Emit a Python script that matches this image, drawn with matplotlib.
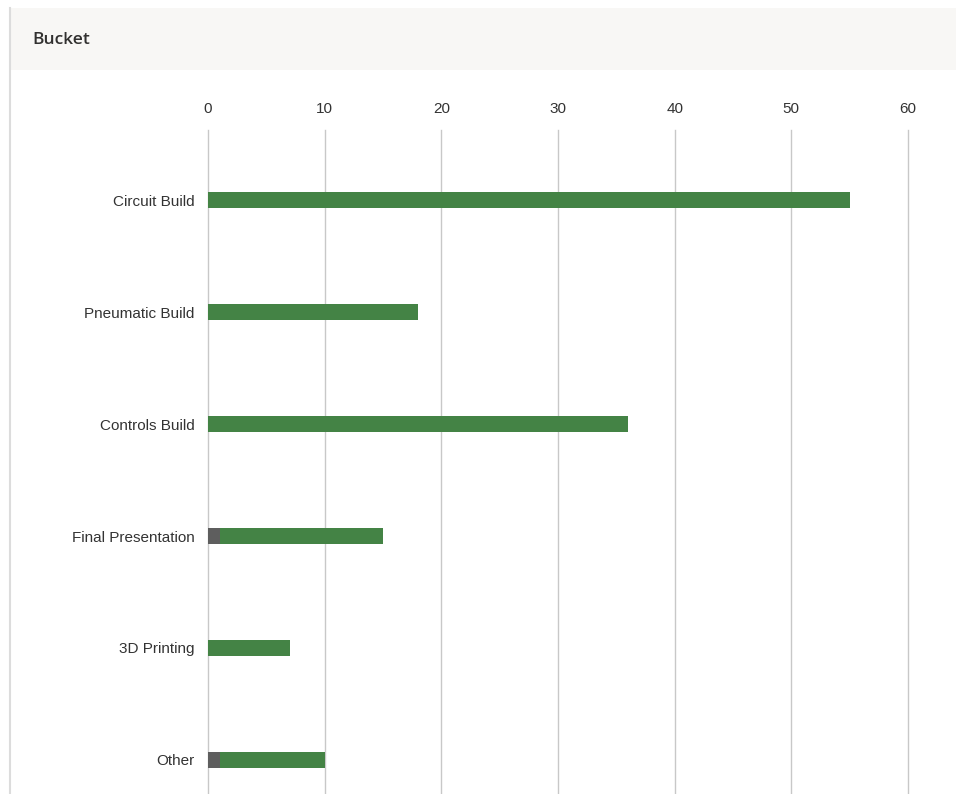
import matplotlib
matplotlib.use('Agg')
import matplotlib.pyplot as plt
from matplotlib.patches import Rectangle
from matplotlib.lines import Line2D

# ---- data --------------------------------------------------------------------
CATEGORIES = ['Circuit Build', 'Pneumatic Build', 'Controls Build',
              'Final Presentation', '3D Printing', 'Other']
GRAY_VALS = [0, 0, 0, 1, 0, 1]
GREEN_VALS = [55, 18, 36, 14, 7, 9]
XTICKS = [0, 10, 20, 30, 40, 50, 60]

GREEN = '#448345'
GRAY = '#5e5e5e'
TEXT = '#333333'

W, H = 956, 794
fig = plt.figure(figsize=(W / 100, H / 100), dpi=100)
fig.patch.set_facecolor('white')

# header band + left border
fig.patches.append(Rectangle((10 / W, 1 - 70 / H), 1 - 10 / W, 62 / H,
                             transform=fig.transFigure, facecolor='#f8f7f5',
                             edgecolor='none', zorder=0))
fig.lines.append(Line2D([9.5 / W, 9.5 / W], [0, 1 - 8 / H],
                        transform=fig.transFigure, color='#dcdcdc', lw=1.5))
fig.text(32 / W, 1 - 40 / H, 'Bucket', ha='left', va='center',
         fontsize=12.5, fontweight='semibold', color='#323130',
         family='Open Sans')

# axes: x=0 at px 208, x=60 at px 908; top at px 130, bottom cut at 794
ax = fig.add_axes([208 / W, 0, 700 / W, (H - 130) / H])
ax.set_facecolor('none')
y = list(range(len(CATEGORIES)))
ax.barh(y, GRAY_VALS, height=0.15, color=GRAY, zorder=3)
ax.barh(y, GREEN_VALS, left=GRAY_VALS, height=0.15, color=GREEN, zorder=3)

ax.set_xlim(0, 60)
ax.set_ylim(5 + 34 / 112, -70 / 112)
ax.set_xticks(XTICKS)
ax.xaxis.tick_top()
ax.grid(axis='x', color='#c8c8c8', lw=1, zorder=0)
for gl in ax.get_xgridlines():
    gl.set_clip_on(False)
ax.set_yticks(y)
ax.set_yticklabels(CATEGORIES)
for s in ax.spines.values():
    s.set_visible(False)
ax.tick_params(axis='both', length=0, colors=TEXT, labelsize=11)
ax.tick_params(axis='x', pad=10)
ax.tick_params(axis='y', pad=9.5)
for lab in ax.get_xticklabels() + ax.get_yticklabels():
    lab.set_family('Liberation Sans')

fig.savefig('out.png', dpi=100)
